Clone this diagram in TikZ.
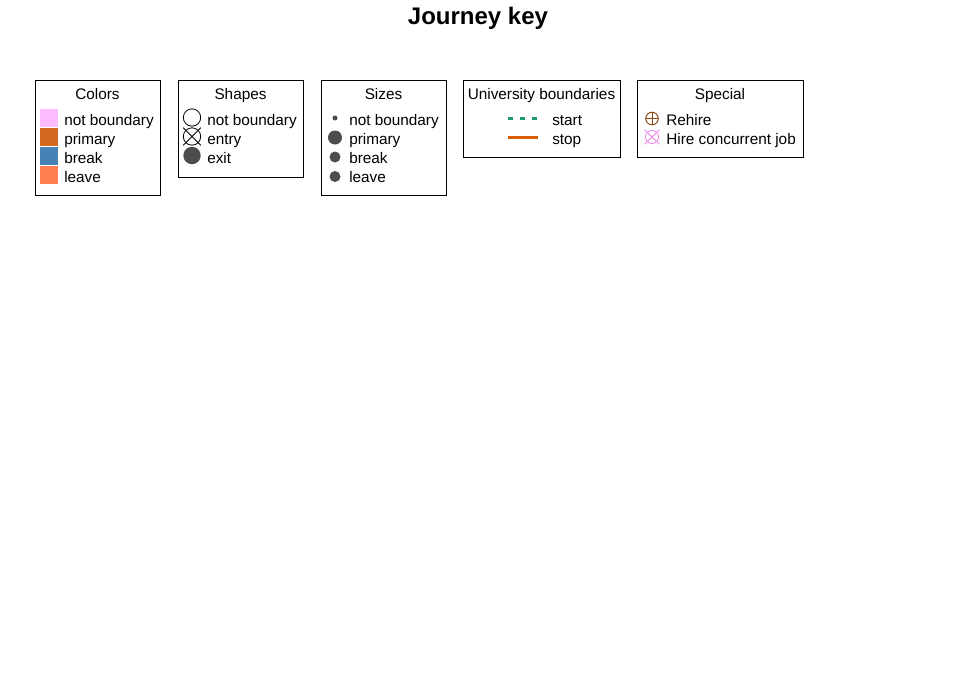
\documentclass[tikz,border=0pt]{standalone}
\usepackage{fontspec}
\setmainfont{Liberation Sans}
\definecolor{notboundary}{HTML}{FFBBFF}
\definecolor{primary}{HTML}{D2691E}
\definecolor{breakcol}{HTML}{4682B4}
\definecolor{leave}{HTML}{FF7F50}
\definecolor{dotgray}{HTML}{4D4D4D}
\definecolor{startline}{HTML}{1B9E77}
\definecolor{stopline}{HTML}{D95F02}
\definecolor{rehire}{HTML}{8B4513}
\definecolor{concurrent}{HTML}{EE82EE}

\begin{document}
\begin{tikzpicture}[x=0.75pt,y=-0.75pt,
    keybox/.style={draw,line width=0.75pt},
    keytitle/.style={anchor=base,inner sep=0pt,font=\fontsize{11.5}{14}\selectfont},
    itemtext/.style={anchor=base west,inner sep=0pt,font=\fontsize{11.5}{14}\selectfont},
    swatch/.style={fill=#1,inner sep=0pt,minimum size=13.5pt},
    sym/.style={inner sep=0pt,minimum size=#1},
    dot/.style={circle,fill=dotgray,inner sep=0pt,minimum size=#1}]
            \useasboundingbox (0,0) rectangle (960,672);
            \node (title) [anchor=base,inner sep=0pt,font=\fontsize{18}{22}\selectfont\bfseries] at (478,24.5) {Journey key};

            % Colors
            \draw[keybox] (35,80) rectangle (160,195);
            \node (colors) [keytitle] at (97.5,99) {Colors};
            \node (cnot) [swatch=notboundary] at (48.5,117.5) {};
            \node (cprim) [swatch=primary] at (48.5,136.5) {};
            \node (cbreak) [swatch=breakcol] at (48.5,155.5) {};
            \node (cleave) [swatch=leave] at (48.5,174.5) {};
            \node (cnottext) [itemtext] at (64,125) {not boundary};
            \node (cprimtext) [itemtext] at (64,144) {primary};
            \node (cbreaktext) [itemtext] at (64,163) {break};
            \node (cleavetext) [itemtext] at (64,182) {leave};

            % Shapes
            \draw[keybox] (178,80) rectangle (303,177);
            \node (shapes) [keytitle] at (240.5,99) {Shapes};
            \node (snot) [sym=12.75pt] at (192,117.5) {};
            \node (sentry) [sym=12.75pt] at (192,136.5) {};
            \node (sexit) [sym=12.75pt] at (192,155.5) {};
            \draw[line width=0.6pt] (snot) circle (8.7);
            \draw[line width=0.6pt] (sentry) circle (8.7);
            \draw[line width=0.6pt] (sentry.north west) -- (sentry.south east);
            \draw[line width=0.6pt] (sentry.north east) -- (sentry.south west);
            \fill[dotgray] (sexit) circle (8.7);
            \node (snottext) [itemtext] at (207,125) {not boundary};
            \node (sentrytext) [itemtext] at (207,144) {entry};
            \node (sexittext) [itemtext] at (207,163) {exit};

            % Sizes
            \draw[keybox] (321,80) rectangle (446,195);
            \node (sizes) [keytitle] at (383.5,99) {Sizes};
            \node (znot) [dot=3.75pt] at (335,118) {};
            \node (zprim) [dot=10.5pt] at (335,137.5) {};
            \node (zbreak) [dot=8.25pt] at (335,157) {};
            \node (zleave) [dot=8.25pt] at (335,176.5) {};
            \node (znottext) [itemtext] at (349,125) {not boundary};
            \node (zprimtext) [itemtext] at (349,144) {primary};
            \node (zbreaktext) [itemtext] at (349,163) {break};
            \node (zleavetext) [itemtext] at (349,182) {leave};

            % University boundaries
            \draw[keybox] (463,80) rectangle (620,157);
            \node (bounds) [keytitle] at (541.5,99) {University boundaries};
            \coordinate (startfrom) at (508,118.5);
            \coordinate (startto) at (538,118.5);
            \coordinate (stopfrom) at (508,137.5);
            \coordinate (stopto) at (538,137.5);
            \draw[startline,line width=2.1pt,dash pattern=on 3.75pt off 5.25pt] (startfrom) -- (startto);
            \draw[stopline,line width=2.25pt] (stopfrom) -- (stopto);
            \node (starttext) [itemtext] at (552,125) {start};
            \node (stoptext) [itemtext] at (552,144) {stop};

            % Special
            \draw[keybox] (637,80) rectangle (803,157);
            \node (special) [keytitle] at (720,99) {Special};
            \node (rehire) [sym=9.5pt] at (652,118.5) {};
            \node (concur) [sym=10.5pt] at (652,137) {};
            \draw[rehire,line width=0.7pt] (rehire) circle (6.3);
            \draw[rehire,line width=0.7pt] (rehire.north) -- (rehire.south);
            \draw[rehire,line width=0.7pt] (rehire.west) -- (rehire.east);
            \draw[concurrent,line width=0.6pt] (concur) circle (6.5);
            \draw[concurrent,line width=0.6pt] (concur.north west) -- (concur.south east);
            \draw[concurrent,line width=0.6pt] (concur.north east) -- (concur.south west);
            \node (rehiretext) [itemtext] at (666,125) {Rehire};
            \node (concurtext) [itemtext] at (666,144) {Hire concurrent job};
        \end{tikzpicture}
\end{document}
